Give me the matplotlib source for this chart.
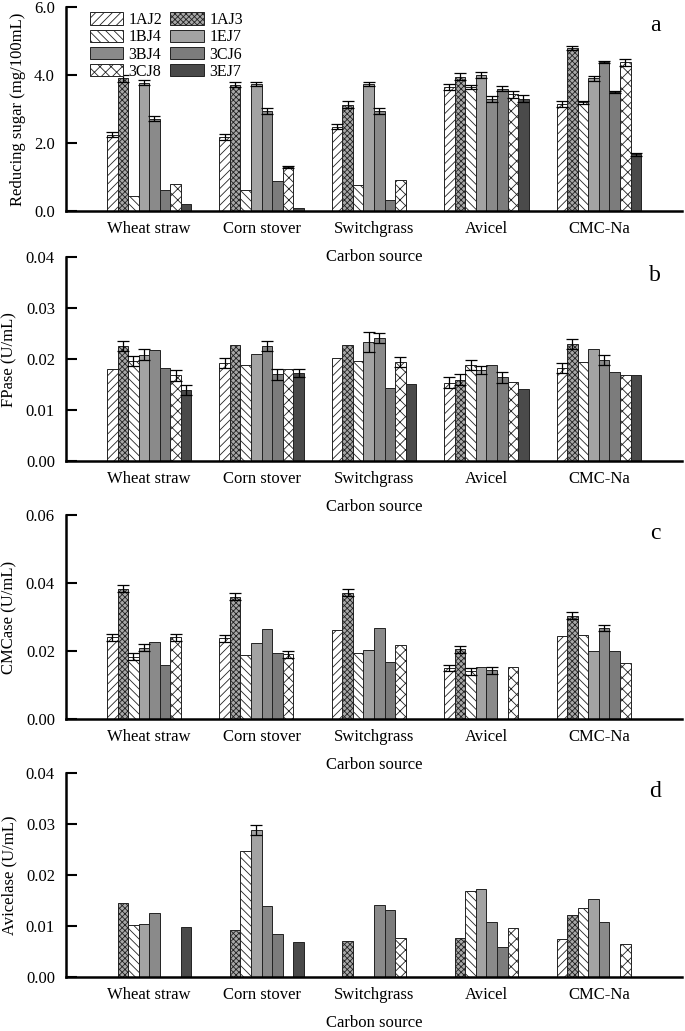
import numpy as np
import matplotlib
matplotlib.use("Agg")
import matplotlib.pyplot as plt
from matplotlib.patches import Patch

plt.rcParams['font.family'] = ['Liberation Serif', 'DejaVu Serif']
plt.rcParams['hatch.linewidth'] = 0.6

sources = ["Wheat straw", "Corn stover", "Switchgrass", "Avicel", "CMC-Na"]
strains = ["1AJ2", "1AJ3", "1BJ4", "1EJ7", "3BJ4", "3CJ6", "3CJ8", "3EJ7"]

# rows = strains, columns = carbon sources
sugar = [
    [2.25, 2.18, 2.48, 3.65, 3.15],
    [3.90, 3.72, 3.13, 3.95, 4.80],
    [0.45, 0.62, 0.76, 3.65, 3.20],
    [3.78, 3.74, 3.74, 4.00, 3.90],
    [2.72, 2.95, 2.95, 3.30, 4.38],
    [0.63, 0.88, 0.33, 3.60, 3.50],
    [0.80, 1.30, 0.93, 3.43, 4.38],
    [0.22, 0.10, 0.00, 3.30, 1.67],
]
sugar_err = [
    [0.08, 0.10, 0.08, 0.10, 0.10],
    [0.10, 0.08, 0.10, 0.10, 0.06],
    [0, 0, 0, 0.05, 0.05],
    [0.07, 0.07, 0.07, 0.10, 0.08],
    [0.08, 0.08, 0.08, 0.08, 0.04],
    [0, 0, 0, 0.07, 0.03],
    [0, 0.02, 0, 0.10, 0.10],
    [0, 0, 0, 0.10, 0.05],
]

fpase = [
    [0.0180, 0.0193, 0.0202, 0.0154, 0.0182],
    [0.0226, 0.0228, 0.0228, 0.0160, 0.0230],
    [0.0197, 0.0189, 0.0197, 0.0189, 0.0195],
    [0.0209, 0.0210, 0.0234, 0.0178, 0.0220],
    [0.0217, 0.0225, 0.0242, 0.0188, 0.0199],
    [0.0182, 0.0170, 0.0144, 0.0164, 0.0175],
    [0.0168, 0.0180, 0.0195, 0.0155, 0.0168],
    [0.0139, 0.0173, 0.0151, 0.0142, 0.0168],
]
fpase_err = [
    [0, 0.001, 0, 0.001, 0.001],
    [0.001, 0, 0, 0.001, 0.001],
    [0.001, 0, 0, 0.001, 0],
    [0.001, 0, 0.002, 0.0008, 0],
    [0, 0.001, 0.001, 0, 0.001],
    [0, 0.001, 0, 0.001, 0],
    [0.001, 0, 0.001, 0, 0],
    [0.001, 0.0008, 0, 0, 0],
]

cmcase = [
    [0.0240, 0.0237, 0.0263, 0.0150, 0.0243],
    [0.0383, 0.0360, 0.0371, 0.0205, 0.0304],
    [0.0184, 0.0188, 0.0193, 0.0140, 0.0246],
    [0.0210, 0.0225, 0.0202, 0.0152, 0.0199],
    [0.0228, 0.0266, 0.0269, 0.0143, 0.0268],
    [0.0160, 0.0193, 0.0167, 0.0, 0.0199],
    [0.0240, 0.0190, 0.0219, 0.0152, 0.0164],
    [0, 0, 0, 0, 0],
]
cmcase_err = [
    [0.001, 0.001, 0, 0.001, 0],
    [0.001, 0.001, 0.001, 0.001, 0.001],
    [0.001, 0, 0, 0.001, 0],
    [0.001, 0, 0, 0, 0],
    [0, 0, 0, 0.001, 0.001],
    [0, 0, 0, 0, 0],
    [0.001, 0.001, 0, 0, 0],
    [0, 0, 0, 0, 0],
]

avicelase = [
    [0, 0, 0, 0, 0.0075],
    [0.0145, 0.0092, 0.0070, 0.0077, 0.0121],
    [0.0102, 0.0247, 0, 0.0169, 0.0136],
    [0.0105, 0.0289, 0, 0.0173, 0.0153],
    [0.0126, 0.0140, 0.0141, 0.0108, 0.0108],
    [0, 0.0084, 0.0132, 0.0060, 0],
    [0, 0, 0.0076, 0.0097, 0.0065],
    [0.0098, 0.0068, 0, 0, 0],
]
avicelase_err = [
    [0, 0, 0, 0, 0],
    [0, 0, 0, 0, 0],
    [0, 0, 0, 0, 0],
    [0, 0.001, 0, 0, 0],
    [0, 0, 0, 0, 0],
    [0, 0, 0, 0, 0],
    [0, 0, 0, 0, 0],
    [0, 0, 0, 0, 0],
]

# bar styles per strain
faces = ['white', '#a8a8a8', 'white', '#a3a3a3', '#8a8a8a', '#7c7c7c', 'white', '#4a4a4a']
hatches = ['////', 'xxxxxx', '\\\\\\\\', None, None, None, 'xxx', None]

panels = [
    (sugar, sugar_err, "Reducing sugar (mg/100mL)", 6.0, 2.0, "%.1f", "a"),
    (fpase, fpase_err, "FPase (U/mL)", 0.04, 0.01, "%.2f", "b"),
    (cmcase, cmcase_err, "CMCase (U/mL)", 0.06, 0.02, "%.2f", "c"),
    (avicelase, avicelase_err, "Avicelase (U/mL)", 0.04, 0.01, "%.2f", "d"),
]

fig = plt.figure(figsize=(6.85, 10.31), dpi=100)
tops = [0.9932, 0.7507, 0.5005, 0.2502]
h = 0.198
left, right = 0.0964, 0.9956
x = np.arange(len(sources))
w = 0.094

for p, (vals, errs, ylab, ymax, step, fmt, letter) in enumerate(panels):
    ax = fig.add_axes([left, tops[p] - h, right - left, h])
    ax.patch.set_visible(False)
    for i, s in enumerate(strains):
        pos = x + (i - 3.5) * w
        v = np.array(vals[i])
        e = np.array(errs[i])
        ax.bar(pos, v, w, color=faces[i], edgecolor='#222222', linewidth=0.7,
               hatch=hatches[i], zorder=2)
        m = e > 0
        if m.any():
            ax.errorbar(pos[m], v[m], yerr=e[m], fmt='none', ecolor='black',
                        elinewidth=0.9, capsize=4, capthick=0.9, zorder=3)
    ax.set_xlim(-0.74, 4.74)
    ax.set_ylim(0, ymax)
    ax.set_yticks(np.arange(0, ymax + step / 2, step))
    ax.yaxis.set_major_formatter(matplotlib.ticker.FormatStrFormatter(fmt))
    ax.set_xticks(x)
    ax.set_xticklabels(sources)
    ax.tick_params(axis='x', length=0, labelsize=12, pad=7)
    ax.tick_params(axis='y', direction='in', length=8, width=1.5, labelsize=12, pad=8)
    for sp in ['top', 'right']:
        ax.spines[sp].set_visible(False)
    ax.spines['left'].set_linewidth(1.8)
    ax.spines['bottom'].set_linewidth(1.8)
    ax.set_ylabel(ylab, fontsize=12, labelpad=6)
    ax.set_xlabel("Carbon source", fontsize=12, labelpad=9)
    ax.text(0.956, 0.91, letter, transform=ax.transAxes, fontsize=17,
            ha='center', va='center')
    if p == 0:
        handles = [Patch(facecolor=faces[i], edgecolor='#222222', linewidth=0.7,
                         hatch=hatches[i], label=strains[i]) for i in range(8)]
        order = [0, 2, 4, 6, 1, 3, 5, 7]
        ax.legend([handles[k] for k in order], [strains[k] for k in order],
                  ncol=2, loc='upper left', bbox_to_anchor=(0.02, 1.03),
                  frameon=False, fontsize=11.5, handlelength=2.1,
                  handleheight=0.8, labelspacing=0.08, handletextpad=0.35,
                  columnspacing=0.5, borderpad=0.2)

fig.savefig("out.png", dpi=100)
